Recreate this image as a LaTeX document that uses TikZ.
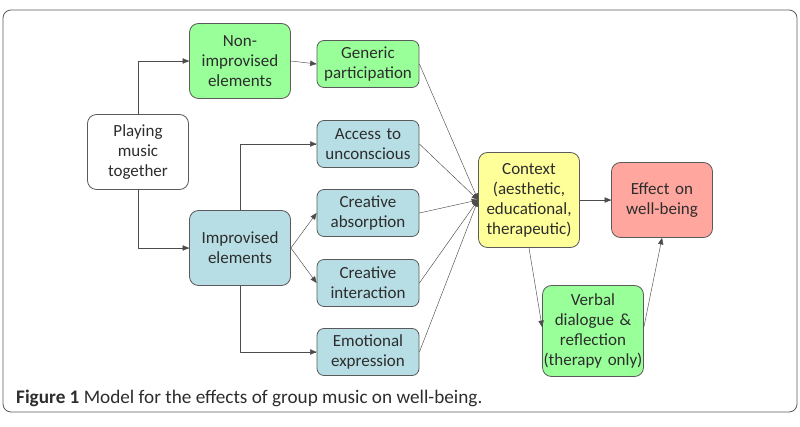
\documentclass[tikz,border=0pt]{standalone}
\usepackage{fontspec}
\setmainfont{Carlito}
\usetikzlibrary{arrows}

\definecolor{boxgreen}{RGB}{153,255,153}
\definecolor{boxblue}{RGB}{183,222,228}
\definecolor{boxyellow}{RGB}{255,255,153}
\definecolor{boxred}{RGB}{255,166,158}
\definecolor{edgegray}{RGB}{90,90,90}
\definecolor{textgray}{RGB}{45,45,45}

\tikzset{
  boxnode/.style={draw=edgegray, line width=0.8pt, rounded corners=9pt, align=center,
    inner sep=1pt, text=textgray, font=\fontsize{17}{20}\selectfont},
  bigbox/.style={boxnode, minimum width=101pt, minimum height=75pt, text width=99pt},
  smallbox/.style={boxnode, rounded corners=7pt, minimum width=102pt, minimum height=47pt, text width=100pt},
  link/.style={->, draw=black!70, line width=0.45pt}
}

\begin{document}
\begin{tikzpicture}[x=1pt,y=-1pt,line cap=round,line join=round,>=triangle 45]
    \useasboundingbox (0,0) rectangle (800,427);
    \draw [draw=edgegray, line width=0.8pt, rounded corners=8pt] (3,10) rectangle (797,412);
    % left column
    \node [bigbox, fill=white] (play) at (138,152) {Playing\\music\\together};
    \node [bigbox, fill=boxgreen] (nonimp) at (240,61) {Non-\\improvised\\elements};
    \node [bigbox, fill=boxblue] (imp) at (240,248) {Improvised\\elements};
    % middle column
    \node [smallbox, fill=boxgreen] (gen) at (368,64) {Generic\\participation};
    \node [smallbox, fill=boxblue] (acc) at (368,144) {Access to\\unconscious};
    \node [smallbox, fill=boxblue] (abs) at (368,213) {Creative\\absorption};
    \node [smallbox, fill=boxblue] (inter) at (368,283) {Creative\\interaction};
    \node [smallbox, fill=boxblue] (emo) at (368,352) {Emotional\\expression};
    % right part
    \node [bigbox, fill=boxyellow, minimum height=95pt] (ctx) at (529,200) {Context\\(aesthetic,\\educational,\\therapeutic)};
    \node [bigbox, fill=boxred] (eff) at (662,200) {Effect on\\well-being};
    \node [bigbox, fill=boxgreen, minimum height=91pt] (verb) at (593,331) {Verbal\\dialogue \&\\reflection\\(therapy only)};
    \coordinate (ctxin) at (ctx.west);
    % connectors
    \draw [link] (play.north) |- (nonimp.west);
    \draw [link] (play.south) |- (imp.west);
    \draw [link] (nonimp.east) -- (gen.west);
    \draw [link] (imp.north) |- (acc.west);
    \draw [link] (imp.south) |- (emo.west);
    \draw [link] (imp.east) -- (abs.west);
    \draw [link] (imp.east) -- (inter.west);
    \foreach \b in {gen,acc,abs,inter,emo}
      \draw [link] (\b.east) -- (ctxin);
    \draw [link] (ctx.east) -- (eff.west);
    \draw [link] (ctx.south) -- ([yshift=4pt]verb.west);
    \draw [link] ([yshift=4pt]verb.east) -- (eff.south);
    % caption
    \node [anchor=west, inner sep=0pt, text=textgray, font=\fontsize{19.2}{22}\selectfont] (cap) at (16,398)
      {\textbf{Figure 1} Model for the effects of group music on well-being.};
\end{tikzpicture}
\end{document}
